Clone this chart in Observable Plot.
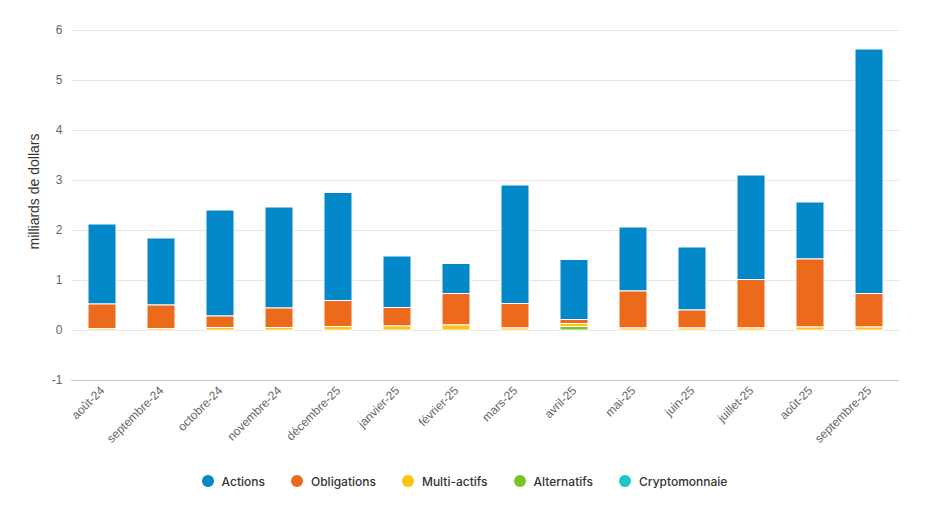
<!DOCTYPE html>
<html>
<head>
<meta charset="utf-8">
<script src="https://cdn.jsdelivr.net/npm/d3@7"></script>
<script src="https://cdn.jsdelivr.net/npm/@observablehq/plot@0.6"></script>
<style>
  body { margin: 0; background: #fff; font-family: "Liberation Sans", Arial, sans-serif; }
  #legend { display: flex; justify-content: center; gap: 0; margin-top: 22px; height: 18px; align-items: center; padding-left: 0; }
  .item { display: flex; align-items: center; font-family: Inter, "Noto Sans", sans-serif; font-size: 12px; font-weight: 500; color: #333; margin: 0 13px; }
  .dot { width: 12px; height: 12px; border-radius: 50%; margin-right: 8px; }
</style>
</head>
<body>
<div id="chart"></div>
<div id="legend"></div>
<script>
const months = ["août-24","septembre-24","octobre-24","novembre-24","décembre-25","janvier-25","février-25","mars-25","avril-25","mai-25","juin-25","juillet-25","août-25","septembre-25"];
const seriesNames = ["Actions","Obligations","Multi-actifs","Alternatifs","Cryptomonnaie"];
const colors = ["#0288c9","#ec6a1c","#ffc20e","#7ac427","#1bc6c6"];
const actions      = [1.60, 1.34, 2.12, 2.02, 2.16, 1.03, 0.60, 2.37, 1.20, 1.28, 1.26, 2.09, 1.14, 4.89];
const obligations  = [0.49, 0.47, 0.23, 0.39, 0.52, 0.37, 0.63, 0.49, 0.08, 0.74, 0.36, 0.97, 1.36, 0.67];
const multiActifs  = [0.03, 0.03, 0.05, 0.05, 0.07, 0.08, 0.10, 0.04, 0.06, 0.04, 0.04, 0.04, 0.06, 0.06];
const alternatifs  = [0, 0, 0, 0, 0, 0, 0, 0, 0.07, 0, 0, 0, 0, 0];
const crypto       = [0, 0, 0, 0, 0, 0, 0, 0, 0, 0, 0, 0, 0, 0];
const yTicks = [-1, 0, 1, 2, 3, 4, 5, 6];
const yLabel = ["milliards de dollars"];

const seriesValues = [actions, obligations, multiActifs, alternatifs, crypto];
const data = [];
months.forEach((m, i) => {
  seriesNames.forEach((s, j) => data.push({month: m, series: s, value: seriesValues[j][i]}));
});

const chart = Plot.plot({
  width: 929,
  height: 450,
  marginLeft: 71,
  marginRight: 30,
  marginTop: 30,
  marginBottom: 70,
  style: {fontFamily: '"Liberation Sans", Arial, sans-serif', background: "#fff"},
  x: {domain: months, paddingInner: 0.53, paddingOuter: 0.265, label: null},
  y: {domain: [-1, 6], label: null},
  color: {domain: seriesNames, range: colors},
  marks: [
    Plot.gridY(yTicks, {stroke: "#e6e6e6", strokeOpacity: 1}),
    Plot.ruleY([-1], {stroke: "#c8c8c8"}),
    Plot.barY(data, Plot.stackY({
      x: "month", y: "value", fill: "series",
      order: ["Cryptomonnaie","Alternatifs","Multi-actifs","Obligations","Actions"],
      stroke: "#fff", strokeWidth: 1
    })),
    Plot.axisY(yTicks, {tickSize: 0, tickPadding: 9, fontSize: 12, fill: "#666", label: null, tickFormat: d => String(d)}),
    Plot.axisX({tickSize: 0, tickPadding: 8, tickRotate: -45, fontSize: 12, fill: "#666", label: null}),
    Plot.text(yLabel, {frameAnchor: "left", textAnchor: "middle", rotate: -90, dx: -37, dy: -14, fontSize: 14, fill: "#333", text: d => d})
  ]
});
document.getElementById("chart").appendChild(chart);

const legend = document.getElementById("legend");
seriesNames.forEach((s, j) => {
  const it = document.createElement("div");
  it.className = "item";
  it.innerHTML = `<span class="dot" style="background:${colors[j]}"></span>${s}`;
  legend.appendChild(it);
});
</script>
</body>
</html>
